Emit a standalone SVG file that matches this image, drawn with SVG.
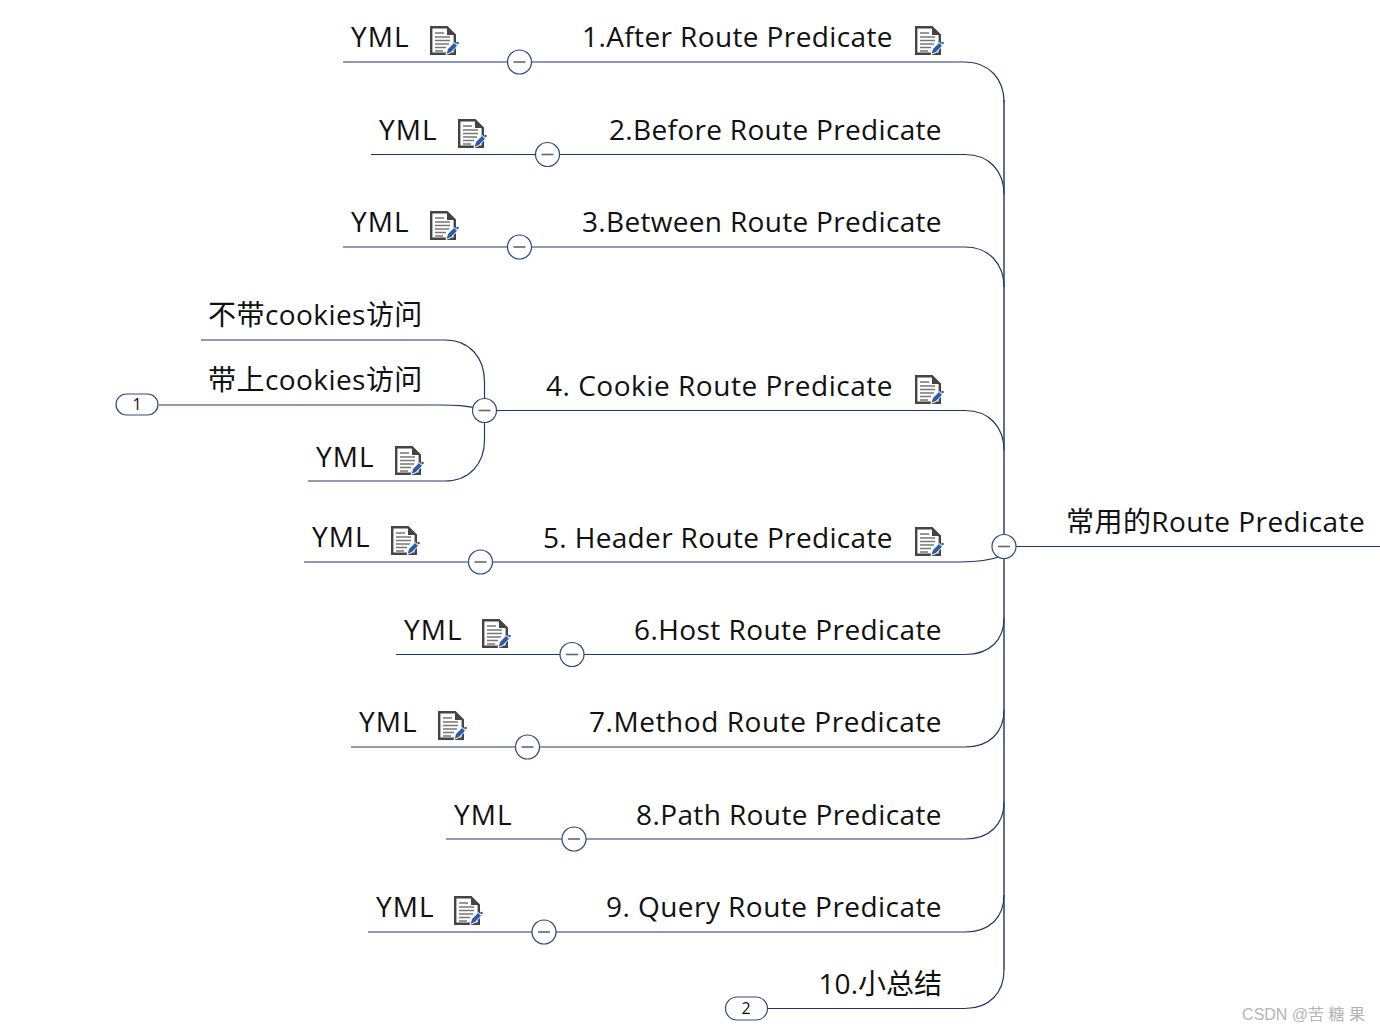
<svg xmlns="http://www.w3.org/2000/svg" width="1380" height="1032" viewBox="0 0 1380 1032">
<style>
text{font-family:"Open Sans","Noto Sans","Noto Sans CJK SC",sans-serif;font-size:28px;fill:#111;letter-spacing:.44px}
.c path{fill:none;stroke:#1f3864;stroke-width:1.2}
.c .a{stroke:#2b416f;stroke-width:1.500}
.t circle,.t rect{fill:#fff;stroke:#2f4a7c;stroke-width:1.200}
.t line{stroke:#666;stroke-width:1.600}
text.n{font-size:16px;text-anchor:middle;letter-spacing:0}
text.z{letter-spacing:0;text-anchor:end}
text.w{font-family:"Liberation Sans","Noto Sans CJK SC",sans-serif;font-size:16px;fill:#b4b4b4;text-anchor:end;letter-spacing:0}
</style>
<defs>
<!-- page with folded corner and a pen -->
<symbol id="doc" viewBox="0 0 29 29" overflow="visible">
<path d="M1.200 1.200H17L24.800 9V27.800H1.200Z" fill="#fff" stroke="#444" stroke-width="2.400"/>
<path d="M17 1.200V9H24.800Z" fill="#444"/>
<path d="M5 7H14M5 11H20M5 14.500H20M5 18H19M5 21.500H16M5 25H13" stroke="#777" stroke-width="1.600" fill="none"/>
<path d="M16 28.500L17.500 23L24 16.500L27.500 19.800L21 26.500Z" fill="#2a5caa" stroke="#fff" stroke-width="1"/>
<circle cx="27.500" cy="17" r="1.300" fill="#2a5caa"/>
</symbol>
</defs>
<g id="connectors" class="c">
<path class="a" d="M1004 100V970"/>
<path d="M343 62H965C990 62 1004 80 1004 102"/>
<path d="M371 154.500H965C990 154.500 1004 172 1004 194"/>
<path d="M343 247H965C990 247 1004 265 1004 287"/>
<path d="M484 410.500H965C990 410.500 1004 428 1004 450"/>
<path d="M304 562H960C980 562 992 560 1004 555"/>
<path d="M396 654.500H965C990 654.500 1004 640 1004 618"/>
<path d="M351 747H965C990 747 1004 732 1004 710"/>
<path d="M446 839H965C990 839 1004 824 1004 802"/>
<path d="M368 932H965C990 932 1004 917 1004 895"/>
<path d="M768 1008.500H965C990 1008.500 1004 992 1004 970"/>
<path d="M1004 546.500H1380"/>
<path d="M201 340H445C470 340 484.500 358 484.500 382V410"/>
<path d="M159 405H440C455 405 465 405 484 410"/>
<path d="M308 481H445C470 481 484.500 463 484.500 440V410"/>
</g>
<g id="root"><text x="1066" y="532">常用的Route Predicate</text><g class="t"><circle cx="1004" cy="546.500" r="12"/><line x1="998" y1="546.500" x2="1010" y2="546.500"/></g></g>
<g id="n1"><text x="582" y="47" textLength="311">1.After Route Predicate</text><use href="#doc" x="915" y="26" width="29" height="29"/></g>
<g id="n1y"><text x="351" y="47" textLength="58">YML</text><use href="#doc" x="430" y="26" width="29" height="29"/><g class="t"><circle cx="519.500" cy="62" r="12"/><line x1="513.500" y1="62" x2="525.500" y2="62"/></g></g>
<g id="n2"><text x="609" y="139.500" textLength="333">2.Before Route Predicate</text></g>
<g id="n2y"><text x="379" y="139.500" textLength="58">YML</text><use href="#doc" x="458" y="119" width="29" height="29"/><g class="t"><circle cx="547.500" cy="154.500" r="12"/><line x1="541.500" y1="154.500" x2="553.500" y2="154.500"/></g></g>
<g id="n3"><text x="582" y="232" textLength="360">3.Between Route Predicate</text></g>
<g id="n3y"><text x="351" y="232" textLength="58">YML</text><use href="#doc" x="430" y="211" width="29" height="29"/><g class="t"><circle cx="519.500" cy="247" r="12"/><line x1="513.500" y1="247" x2="525.500" y2="247"/></g></g>
<g id="n4"><text x="546" y="395.500" textLength="347">4. Cookie Route Predicate</text><use href="#doc" x="915" y="375" width="29" height="29"/><g class="t"><circle cx="484.500" cy="410.500" r="12"/><line x1="478.500" y1="410.500" x2="490.500" y2="410.500"/></g></g>
<g id="n4a"><text x="208" y="324.500">不带cookies访问</text></g>
<g id="n4b"><text x="208" y="389.500">带上cookies访问</text><g class="t"><rect x="116" y="394" width="42" height="21" rx="10.500"/></g><text class="n" x="137" y="410">1</text></g>
<g id="n4y"><text x="316" y="467" textLength="58">YML</text><use href="#doc" x="395" y="446" width="29" height="29"/></g>
<g id="n5"><text x="543" y="547.500" textLength="350">5. Header Route Predicate</text><use href="#doc" x="915" y="527" width="29" height="29"/></g>
<g id="n5y"><text x="312" y="547" textLength="58">YML</text><use href="#doc" x="391" y="526" width="29" height="29"/><g class="t"><circle cx="480.500" cy="562" r="12"/><line x1="474.500" y1="562" x2="486.500" y2="562"/></g></g>
<g id="n6"><text x="634" y="639.500" textLength="308">6.Host Route Predicate</text></g>
<g id="n6y"><text x="404" y="639.500" textLength="58">YML</text><use href="#doc" x="482" y="619" width="29" height="29"/><g class="t"><circle cx="572" cy="654.500" r="12"/><line x1="566" y1="654.500" x2="578" y2="654.500"/></g></g>
<g id="n7"><text x="589" y="732" textLength="353">7.Method Route Predicate</text></g>
<g id="n7y"><text x="359" y="732" textLength="58">YML</text><use href="#doc" x="438" y="711" width="29" height="29"/><g class="t"><circle cx="527.500" cy="747" r="12"/><line x1="521.500" y1="747" x2="533.500" y2="747"/></g></g>
<g id="n8"><text x="636" y="824.500" textLength="306">8.Path Route Predicate</text></g>
<g id="n8y"><text x="454" y="824.500" textLength="58">YML</text><g class="t"><circle cx="574" cy="839" r="12"/><line x1="568" y1="839" x2="580" y2="839"/></g></g>
<g id="n9"><text x="606" y="917" textLength="336">9. Query Route Predicate</text></g>
<g id="n9y"><text x="376" y="917" textLength="58">YML</text><use href="#doc" x="454" y="896" width="29" height="29"/><g class="t"><circle cx="544" cy="932" r="12"/><line x1="538" y1="932" x2="550" y2="932"/></g></g>
<g id="n10"><text class="z" x="942" y="994">10.小总结</text><g class="t"><rect x="725.500" y="997" width="42" height="23" rx="11.500"/></g><text class="n" x="746" y="1014">2</text></g>
<text class="w" x="1365" y="1020">CSDN @苦 糖 果</text>
</svg>
